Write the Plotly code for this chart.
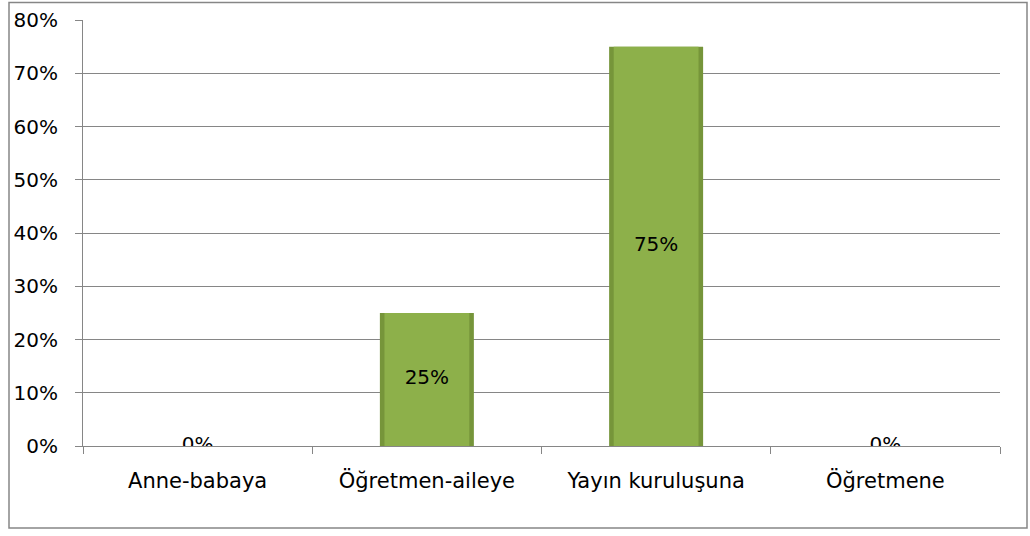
import plotly.graph_objects as go

categories = ["Anne-babaya", "Öğretmen-aileye", "Yayın kuruluşuna", "Öğretmene"]
values = [0, 25, 75, 0]
labels = ["0%", "25%", "75%", "0%"]
y_ticks = [0, 10, 20, 30, 40, 50, 60, 70, 80]
y_tick_text = [f"{t}%" for t in y_ticks]

FONT = "DejaVu Sans, sans-serif"
GRID = "#868686"

fig = go.Figure()
# outer (darker edge) bar
fig.add_trace(go.Bar(
    x=categories, y=values, width=0.41,
    marker=dict(color="#76953A", line=dict(width=0)),
    hoverinfo="skip", showlegend=False,
))
# inner (lighter face) bar
fig.add_trace(go.Bar(
    x=categories, y=values, width=0.37,
    marker=dict(color="#8DB04A", line=dict(width=0)),
    hoverinfo="skip", showlegend=False,
))
fig.add_trace(go.Scatter(
    x=categories, y=[v / 2 for v in values], text=labels, mode="text",
    textfont=dict(family=FONT, size=20, color="black"),
    textposition="middle center", showlegend=False, hoverinfo="skip",
))

fig.update_layout(
    width=1030, height=536,
    margin=dict(l=83, r=30, t=20, b=90, autoexpand=False),
    paper_bgcolor="white", plot_bgcolor="white",
    barmode="overlay",
    font=dict(family=FONT, size=20, color="black"),
    xaxis=dict(
        type="category", tickson="boundaries", ticks="outside", ticklen=7,
        tickcolor=GRID, showline=True, linecolor=GRID, linewidth=1,
        showgrid=False, range=[-0.5, 3.5], ticklabelstandoff=16,
        tickfont=dict(size=21),
    ),
    yaxis=dict(
        range=[0, 80], tickvals=y_ticks, ticktext=y_tick_text,
        ticks="outside", ticklen=7, tickcolor=GRID,
        showline=True, linecolor=GRID, linewidth=1,
        showgrid=True, gridcolor=GRID, gridwidth=1,
        zeroline=False, ticklabelstandoff=13,
    ),
    shapes=[dict(
        type="rect", xref="paper", yref="paper",
        x0=(9 - 83) / 917, x1=(1027 - 83) / 917,
        y0=(446 - 528) / 426, y1=(446 - 2.5) / 426,
        line=dict(color="#868686", width=1.5), fillcolor="rgba(0,0,0,0)",
        layer="below",
    )],
)

fig.write_html("out.html", config={"displayModeBar": False},
               post_script="document.body.style.margin='0';")
